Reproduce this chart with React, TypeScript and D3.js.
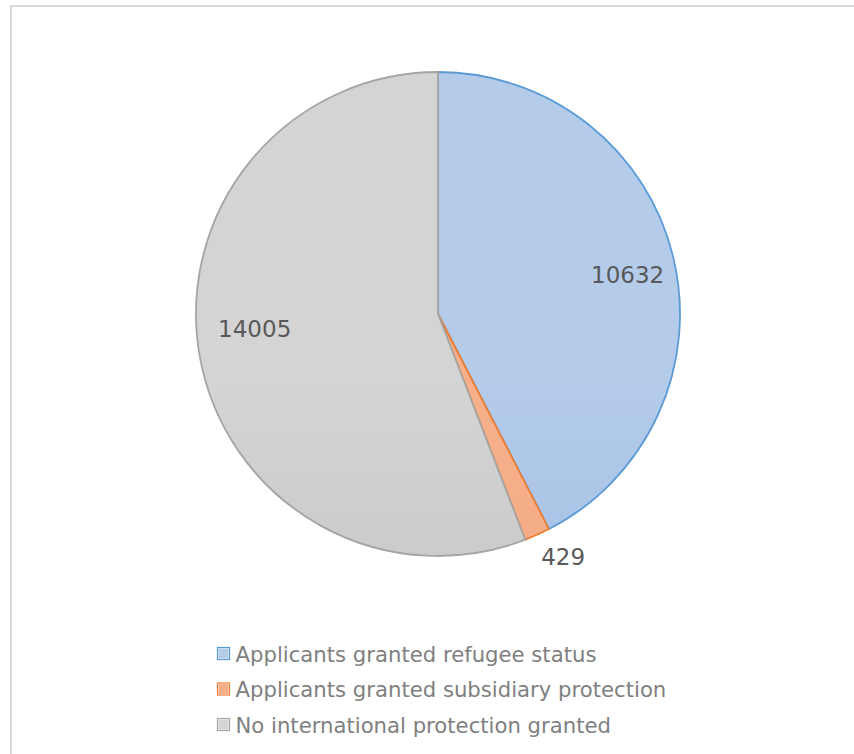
import React from "react";
import * as d3 from "d3";

const categories = [
  "Applicants granted refugee status",
  "Applicants granted subsidiary protection",
  "No international protection granted",
];
const values = [10632, 429, 14005];
const labelTexts = ["10632", "429", "14005"];

const fillTop = ["#b4cbea", "#f5b08b", "#d4d4d4"];
const fillBottom = ["#93b5e1", "#f4a67d", "#bbbbbb"];
const strokes = ["#5b9bd5", "#ed7d31", "#a5a5a5"];
const labelRadiusFactor = [0.8, 1.13, 0.76];
const labelAngleShift = [2, -3, 6];

export default function App() {
  const W = 854;
  const H = 754;
  const cx = 438;
  const cy = 314;
  const R = 242;

  const pie = d3.pie<number>().sort(null).value((d) => d);
  const arcs = pie(values);
  const arcGen = d3.arc<d3.PieArcDatum<number>>().innerRadius(0).outerRadius(R);

  const legendX = 217;
  const legendY0 = 654;
  const legendStep = 35.5;

  return (
    <svg
      width={W}
      height={H}
      style={{ position: "absolute", left: 0, top: 0 }}
      fontFamily="'DejaVu Sans', Verdana, sans-serif"
    >
      <defs>
        {arcs.map((a, i) => (
          <linearGradient
            key={i}
            id={`g${i}`}
            gradientUnits="userSpaceOnUse"
            x1={0}
            y1={cy - R}
            x2={0}
            y2={cy + R}
          >
            <stop offset="0" stopColor={fillTop[i]} />
            <stop offset="1" stopColor={fillBottom[i]} />
          </linearGradient>
        ))}
      </defs>
      <rect x={0} y={0} width={W} height={H} fill="#ffffff" />
      <path
        d={`M11,${H} L11,6 L${W + 2},6`}
        fill="none"
        stroke="#d9d9d9"
        strokeWidth={2}
      />
      <g transform={`translate(${cx},${cy})`}>
        {arcs.map((a, i) => (
          <path
            key={i}
            d={arcGen(a) || ""}
            fill={`url(#g${i})`}
            stroke={strokes[i]}
            strokeWidth={1.8}
            strokeLinejoin="round"
          />
        ))}
        {arcs.map((a, i) => {
          const mid = (a.startAngle + a.endAngle) / 2 + (labelAngleShift[i] * Math.PI) / 180;
          const r = R * labelRadiusFactor[i];
          const x = r * Math.sin(mid);
          const y = -r * Math.cos(mid);
          return (
            <text
              key={i}
              x={x}
              y={y}
              textAnchor="middle"
              dominantBaseline="central"
              fontSize={23}
              fill="#595959"
            >
              {labelTexts[i]}
            </text>
          );
        })}
      </g>
      {categories.map((c, i) => (
        <g key={c} transform={`translate(${legendX},${legendY0 + i * legendStep})`}>
          <rect x={1.5} y={-5.5} width={10} height={10} fill={fillTop[i]} stroke="none" />
          <rect x={0.5} y={-6.5} width={12} height={12} fill="none" stroke={strokes[i]} strokeWidth={1.2} />
          <text x={18.5} y={0} dominantBaseline="central" fontSize={21.2} fill="#7f7f7f">
            {c}
          </text>
        </g>
      ))}
    </svg>
  );
}
